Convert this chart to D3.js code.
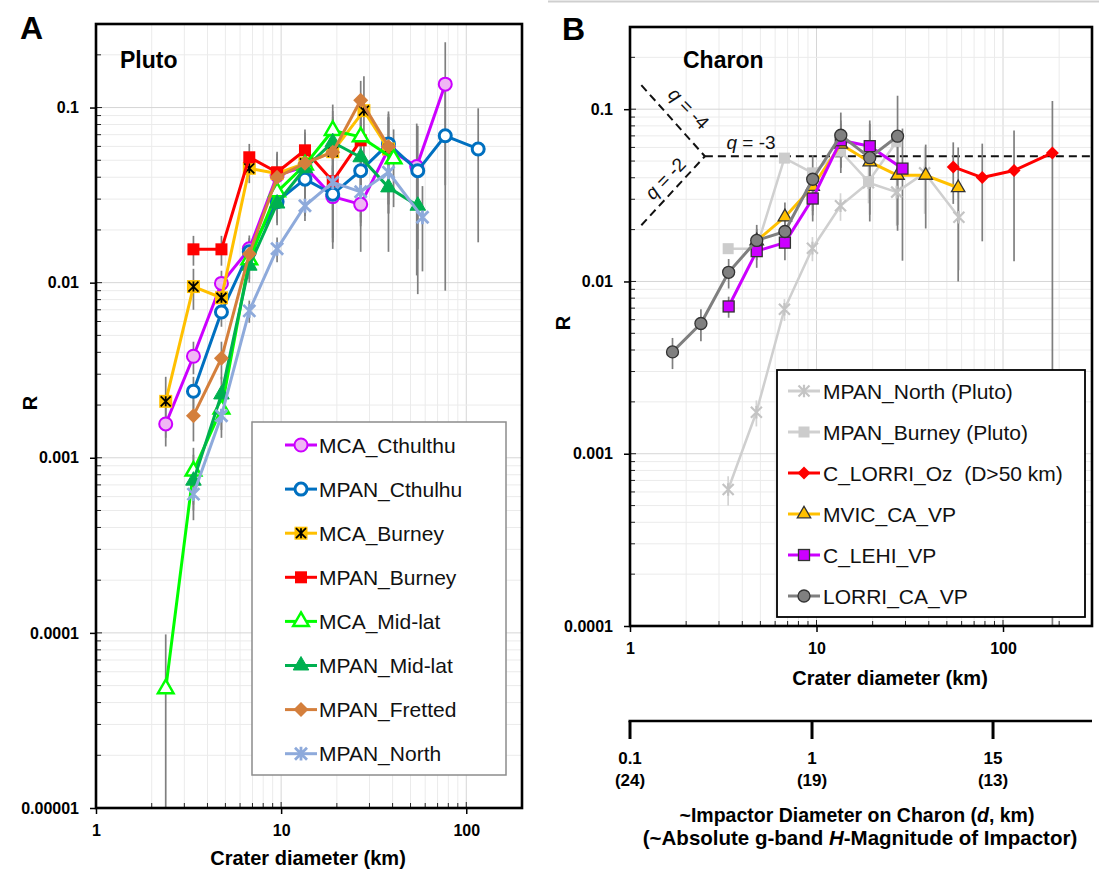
<!DOCTYPE html>
<html><head><meta charset="utf-8">
<script src="https://cdn.jsdelivr.net/npm/d3@7"></script>
<style>body{margin:0;background:#fff}svg{display:block;font-family:Arial,"Liberation Sans",sans-serif}</style>
</head><body><svg id="c" width="1099" height="876"></svg>
<script>
// ---------------- DATA : Panel A (Pluto) ----------------
const xTicks = [1, 10, 100];
const xTickLabels = ["1", "10", "100"];
const yTicksA = [1e-5, 1e-4, 1e-3, 1e-2, 1e-1];
const yTickLabelsA = ["0.00001", "0.0001", "0.001", "0.01", "0.1"];
const yTicksB = [1e-4, 1e-3, 1e-2, 1e-1];
const yTickLabelsB = ["0.0001", "0.001", "0.01", "0.1"];

const mcaCthD = [2.38, 3.36, 4.76, 6.73, 9.51, 13.45, 19.0, 26.9, 38.0, 54.0, 77.0];
const mcaCthR = [0.00156, 0.0038, 0.0099, 0.0156, 0.041, 0.046, 0.031, 0.028, 0.058, 0.046, 0.136];
const mcaCthE = [0.0004, 0.0008, 0.0018, 0.003, 0.01, 0.014, 0.014, 0.013, 0.03, 0.035, 0.1];

const mpanCthD = [3.36, 4.76, 6.73, 9.51, 13.45, 19.0, 26.9, 38.0, 54.7, 77.0, 116];
const mpanCthR = [0.0024, 0.0068, 0.015, 0.029, 0.039, 0.032, 0.0436, 0.062, 0.0436, 0.069, 0.058];
const mpanCthE = [0.0005, 0.0012, 0.003, 0.007, 0.012, 0.015, 0.02, 0.03, 0.035, 0.06, 0.041];

const mcaBurD = [2.38, 3.36, 4.76, 6.73, 9.51, 13.45, 19.0, 28.0, 38.0];
const mcaBurR = [0.0021, 0.0095, 0.0082, 0.045, 0.042, 0.048, 0.056, 0.096, 0.058];
const mcaBurE = [0.0008, 0.0025, 0.002, 0.008, 0.014, 0.02, 0.03, 0.055, 0.03];

const mpanBurD = [3.36, 4.76, 6.73, 9.51, 13.45, 19.0, 26.9];
const mpanBurR = [0.0155, 0.0155, 0.052, 0.0427, 0.057, 0.038, 0.065];
const mpanBurE = [0.003, 0.003, 0.01, 0.012, 0.018, 0.02, 0.035];

const mcaMidD = [2.38, 3.36, 4.76, 6.73, 9.51, 13.45, 19.0, 26.9, 40.5];
const mcaMidR = [0.000048, 0.00084, 0.0019, 0.0135, 0.033, 0.047, 0.074, 0.068, 0.051];
const mcaMidE = [0.00005, 0.0003, 0.0006, 0.003, 0.009, 0.015, 0.03, 0.04, 0.024];

const mpanMidD = [3.36, 4.76, 6.73, 9.51, 13.45, 19.0, 26.9, 38.0, 54.7];
const mpanMidR = [0.00074, 0.0023, 0.0125, 0.0283, 0.045, 0.0634, 0.052, 0.035, 0.0275];
const mpanMidE = [0.0003, 0.0006, 0.0025, 0.007, 0.013, 0.025, 0.03, 0.02, 0.012];

const mpanFreD = [3.36, 4.76, 6.73, 9.51, 13.45, 19.0, 26.9, 38.0];
const mpanFreR = [0.00174, 0.0037, 0.0146, 0.04, 0.048, 0.0556, 0.11, 0.06];
const mpanFreE = [0.0005, 0.0009, 0.003, 0.012, 0.024, 0.04, 0.032, 0.035];

const mpanNorD = [3.36, 4.76, 6.73, 9.51, 13.45, 19.0, 26.9, 38.0, 58.0];
const mpanNorR = [0.00062, 0.00174, 0.0069, 0.0156, 0.0275, 0.0374, 0.033, 0.0427, 0.0236];
const mpanNorE = [0.00012, 0.0003, 0.001, 0.0025, 0.005, 0.009, 0.012, 0.018, 0.012];

// ---------------- DATA : Panel B (Charon) ----------------
const lorriOzD = [54.1, 77.4, 114.6, 184];
const lorriOzR = [0.0462, 0.0401, 0.0441, 0.0557];
const lorriOzE = [0.018, 0.023, 0.031, 0.056];

const mvicD = [4.78, 6.77, 9.54, 13.5, 19.3, 27.2, 38.5, 57.5];
const mvicR = [0.0172, 0.0237, 0.0356, 0.0626, 0.0494, 0.0413, 0.0413, 0.035];
const mvicE = [0.003, 0.005, 0.01, 0.02, 0.025, 0.02, 0.021, 0.025];

const lehiD = [3.38, 4.78, 6.77, 9.54, 13.5, 19.3, 28.9];
const lehiR = [0.00716, 0.015, 0.0168, 0.0303, 0.066, 0.061, 0.0452];
const lehiE = [0.001, 0.003, 0.0035, 0.008, 0.02, 0.025, 0.032];

const lorriCaD = [1.69, 2.4, 3.38, 4.78, 6.77, 9.54, 13.5, 19.3, 27.2];
const lorriCaR = [0.0039, 0.0057, 0.0113, 0.0173, 0.0195, 0.0392, 0.0706, 0.0523, 0.0697];
const lorriCaE = [0.0008, 0.0012, 0.0022, 0.004, 0.0035, 0.015, 0.025, 0.03, 0.05];

// q reference lines (crater D, R)
const qVertex = [2.52, 0.0533];
const qMinus4End = [1.15, 0.138];
const qMinus2End = [1.15, 0.0212];
const qMinus3End = [300, 0.0533];

// impactor secondary axis
const impTickD = [1, 9.46, 88.4];
const impLabel1 = ["0.1", "1", "15"];
const impLabel2 = ["(24)", "(19)", "(13)"];

// ---------------- SCALES ----------------
const svg = d3.select("#c");
const xA = d3.scaleLog().domain([1, 200]).range([96, 522]);
const yA = d3.scaleLog().domain([1e-5, 0.3]).range([808, 24]);
const xB = d3.scaleLog().domain([1, 300]).range([630, 1092]);
const yB = d3.scaleLog().domain([1e-4, 0.3]).range([626, 27]);

function logVals(lo, hi) {
  const out = [];
  for (let e = Math.floor(Math.log10(lo)); e <= Math.ceil(Math.log10(hi)); e++)
    for (let m = 1; m <= 9; m++) {
      const v = m * Math.pow(10, e);
      if (v >= lo * 0.999 && v <= hi * 1.001) out.push({ v, major: m === 1 });
    }
  return out;
}

function frame(x, y, yMaj, yLab) {
  const [x0, x1] = x.range(), [y0, y1] = y.range();
  const g = svg.append("g");
  const xs = logVals(...x.domain()), ys = logVals(...y.domain());
  g.selectAll(null).data(xs).join("line")
    .attr("x1", d => x(d.v)).attr("x2", d => x(d.v)).attr("y1", y1).attr("y2", y0)
    .attr("stroke", d => d.major ? "#d6d6d6" : "#ebebeb").attr("stroke-width", 1);
  g.selectAll(null).data(ys).join("line")
    .attr("y1", d => y(d.v)).attr("y2", d => y(d.v)).attr("x1", x0).attr("x2", x1)
    .attr("stroke", d => d.major ? "#d6d6d6" : "#ebebeb").attr("stroke-width", 1);
  g.selectAll(null).data(xs).join("line")
    .attr("x1", d => x(d.v)).attr("x2", d => x(d.v)).attr("y1", y0).attr("y2", d => y0 - (d.major ? 6 : 5))
    .attr("stroke", "#222").attr("stroke-width", 1);
  g.selectAll(null).data(ys).join("line")
    .attr("y1", d => y(d.v)).attr("y2", d => y(d.v)).attr("x1", x0).attr("x2", d => x0 + (d.major ? 6 : 5))
    .attr("stroke", "#222").attr("stroke-width", 1);
  const ax = g.append("g").attr("transform", `translate(0,${y0})`)
    .call(d3.axisBottom(x).tickValues(xTicks).tickFormat((d, i) => xTickLabels[i]).tickSize(6).tickPadding(11));
  const ay = g.append("g").attr("transform", `translate(${x0},0)`)
    .call(d3.axisLeft(y).tickValues(yMaj).tickFormat((d, i) => yLab[i]).tickSize(6).tickPadding(11));
  [ax, ay].forEach(a => {
    a.select(".domain").remove();
    a.attr("font-size", 16).attr("font-weight", "bold").attr("font-family", "Arial, 'Liberation Sans', sans-serif");
    a.selectAll("text").attr("fill", "#000");
    a.selectAll("line").attr("stroke", "#000").attr("stroke-width", 1.5);
  });
  return g;
}

function border(x, y) {
  const [x0, x1] = x.range(), [y0, y1] = y.range();
  svg.append("rect").attr("x", x0).attr("y", y1).attr("width", x1 - x0).attr("height", y0 - y1)
    .attr("fill", "none").attr("stroke", "#000").attr("stroke-width", 2.6);
}

function marker(g, type, cx, cy, s) {
  const sw = s.sw == null ? 2 : s.sw;
  if (type === "circle") {
    g.append("circle").attr("cx", cx).attr("cy", cy).attr("r", s.r || 6.5)
      .attr("fill", s.fill).attr("stroke", s.stroke).attr("stroke-width", sw);
  } else if (type === "square") {
    const h = (s.size || 12) / 2;
    g.append("rect").attr("x", cx - h).attr("y", cy - h).attr("width", 2 * h).attr("height", 2 * h)
      .attr("fill", s.fill).attr("stroke", s.stroke || "none").attr("stroke-width", sw);
  } else if (type === "diamond") {
    const a = s.half || 7;
    g.append("path").attr("d", `M${cx},${cy - a}L${cx + a},${cy}L${cx},${cy + a}L${cx - a},${cy}Z`)
      .attr("fill", s.fill).attr("stroke", s.stroke || "none").attr("stroke-width", sw);
  } else if (type === "triangle") {
    g.append("path").attr("transform", `translate(${cx},${cy})`)
      .attr("d", d3.symbol(d3.symbolTriangle, s.area || 110)())
      .attr("fill", s.fill).attr("stroke", s.stroke || "none").attr("stroke-width", sw);
  } else if (type === "star") {
    const a = s.size || 6;
    g.append("path").attr("d", `M${cx - a},${cy - a}L${cx + a},${cy + a}M${cx - a},${cy + a}L${cx + a},${cy - a}M${cx},${cy - a * 1.15}L${cx},${cy + a * 1.15}`)
      .attr("stroke", s.stroke).attr("stroke-width", s.sw || 2.6).attr("fill", "none");
  } else if (type === "sqstar") {
    const h = 6.5;
    g.append("rect").attr("x", cx - h).attr("y", cy - h).attr("width", 2 * h).attr("height", 2 * h).attr("fill", s.fill);
    const a = 5;
    g.append("path").attr("d", `M${cx - a},${cy - a}L${cx + a},${cy + a}M${cx - a},${cy + a}L${cx + a},${cy - a}M${cx},${cy - a}L${cx},${cy + a}`)
      .attr("stroke", "#000").attr("stroke-width", 1.8).attr("fill", "none");
  }
}

function drawSeries(x, y, list, errColorDefault) {
  const [ybot, ytop] = y.range();
  const gErr = svg.append("g");
  const gSer = svg.append("g");
  list.forEach(S => {
    const pts = S.D.map((d, i) => ({ d, r: S.R[i], e: S.E ? S.E[i] : 0 }));
    if (S.E) {
      gErr.selectAll(null).data(pts).join("line")
        .attr("x1", p => x(p.d)).attr("x2", p => x(p.d))
        .attr("y1", p => Math.max(ytop, y(p.r + p.e)))
        .attr("y2", p => (p.r - p.e) <= y.domain()[0] ? ybot : y(p.r - p.e))
        .attr("stroke", S.errColor || errColorDefault).attr("stroke-width", 1.7);
    }
  });
  list.forEach(S => {
    const pts = S.D.map((d, i) => ({ d, r: S.R[i] }));
    const g = gSer.append("g");
    g.append("path").datum(pts)
      .attr("d", d3.line().x(p => x(p.d)).y(p => y(p.r)))
      .attr("fill", "none").attr("stroke", S.color).attr("stroke-width", S.lw || 3).attr("stroke-linejoin", "round");
    pts.forEach(p => marker(g, S.type, x(p.d), y(p.r), S));
  });
}

// ---------------- PANEL A ----------------
const seriesA = [
  { name: "MCA_Cthulthu", D: mcaCthD, R: mcaCthR, E: mcaCthE, color: "#cc00ff", type: "circle", fill: "#f0b6f4", stroke: "#cc00ff", r: 6.5 },
  { name: "MPAN_Cthulhu", D: mpanCthD, R: mpanCthR, E: mpanCthE, color: "#0070c0", type: "circle", fill: "#ffffff", stroke: "#0070c0", r: 6, sw: 3 },
  { name: "MCA_Burney", D: mcaBurD, R: mcaBurR, E: mcaBurE, color: "#ffc000", type: "sqstar", fill: "#ffc000" },
  { name: "MPAN_Burney", D: mpanBurD, R: mpanBurR, E: mpanBurE, color: "#ff0000", type: "square", fill: "#ff0000", size: 12 },
  { name: "MCA_Mid-lat", D: mcaMidD, R: mcaMidR, E: mcaMidE, color: "#00ff00", type: "triangle", fill: "#ffffff", stroke: "#00ff00", area: 105, sw: 2.5 },
  { name: "MPAN_Mid-lat", D: mpanMidD, R: mpanMidR, E: mpanMidE, color: "#00b050", type: "triangle", fill: "#00b050", stroke: "#00b050", area: 105, sw: 1 },
  { name: "MPAN_Fretted", D: mpanFreD, R: mpanFreR, E: mpanFreE, color: "#d47f3c", type: "diamond", fill: "#d47f3c", half: 7.5 },
  { name: "MPAN_North", D: mpanNorD, R: mpanNorR, E: mpanNorE, color: "#8eaadb", type: "star", stroke: "#8eaadb", size: 6, sw: 2.8 }
];
frame(xA, yA, yTicksA, yTickLabelsA);
drawSeries(xA, yA, seriesA, "#7f7f7f");

// legend A
const legA = svg.append("g");
legA.append("rect").attr("x", 252).attr("y", 422).attr("width", 254).attr("height", 353)
  .attr("fill", "#fff").attr("stroke", "#8c8c8c").attr("stroke-width", 1.5);
seriesA.forEach((S, i) => {
  const yy = 445 + i * 44.1;
  legA.append("line").attr("x1", 285).attr("x2", 317).attr("y1", yy).attr("y2", yy).attr("stroke", S.color).attr("stroke-width", 3);
  marker(legA, S.type, 301, yy, S);
  legA.append("text").attr("x", 319).attr("y", yy + 7.5).attr("font-size", 21).attr("fill", "#111").text(S.name);
});
border(xA, yA);

// ---------------- PANEL B ----------------
const seriesB = [
  { name: "MPAN_North (Pluto)", D: mpanNorD, R: mpanNorR, E: mpanNorE, errColor: "#d4d4d4", color: "#cfcfcf", type: "star", stroke: "#c4c4c4", size: 5.5, sw: 2.2, lw: 2.5 },
  { name: "MPAN_Burney (Pluto)", D: mpanBurD, R: mpanBurR, E: null, color: "#d0d0d0", type: "square", fill: "#cccccc", size: 11, lw: 2.5 },
  { name: "C_LORRI_Oz  (D>50 km)", D: lorriOzD, R: lorriOzR, E: lorriOzE, color: "#ff0000", type: "diamond", fill: "#ff0000", half: 6.5, lw: 3 },
  { name: "MVIC_CA_VP", D: mvicD, R: mvicR, E: mvicE, color: "#ffc000", type: "triangle", fill: "#ffc000", stroke: "#333", area: 78, sw: 1.3, lw: 3 },
  { name: "C_LEHI_VP", D: lehiD, R: lehiR, E: lehiE, color: "#cc00ff", type: "square", fill: "#cc00ff", stroke: "#333", size: 11, sw: 1.3, lw: 3 },
  { name: "LORRI_CA_VP", D: lorriCaD, R: lorriCaR, E: lorriCaE, color: "#7f7f7f", type: "circle", fill: "#808080", stroke: "#333", r: 6, sw: 1.3, lw: 3 }
];
frame(xB, yB, yTicksB, yTickLabelsB);

// q lines
const qg = svg.append("g");
const qLine = d3.line().x(p => xB(p[0])).y(p => yB(p[1]));
[[qMinus4End, qVertex], [qMinus2End, qVertex], [qVertex, qMinus3End]].forEach(seg => {
  qg.append("path").attr("d", qLine(seg)).attr("fill", "none").attr("stroke", "#111")
    .attr("stroke-width", 2).attr("stroke-dasharray", "8,5");
});

drawSeries(xB, yB, seriesB, "#7f7f7f");

// q labels
function qLabel(txt, cx, cy, rot) {
  const t = qg.append("text").attr("transform", `translate(${cx},${cy}) rotate(${rot})`)
    .attr("text-anchor", "middle").attr("font-size", 19).attr("fill", "#111");
  t.append("tspan").attr("font-style", "italic").text("q");
  t.append("tspan").text(" = " + txt);
}
qLabel("-3", 751, 149, 0);
qLabel("-4", 684, 113, 46);
qLabel("-2", 670, 183, -46);

// legend B
const legB = svg.append("g");
legB.append("rect").attr("x", 777).attr("y", 370).attr("width", 308).attr("height", 247)
  .attr("fill", "#fff").attr("stroke", "#000").attr("stroke-width", 1.8);
seriesB.forEach((S, i) => {
  const yy = 391 + i * 41;
  legB.append("line").attr("x1", 788).attr("x2", 820).attr("y1", yy).attr("y2", yy).attr("stroke", S.color).attr("stroke-width", 3);
  marker(legB, S.type, 804, yy, S);
  legB.append("text").attr("x", 823).attr("y", yy + 7.5).attr("font-size", 21).attr("fill", "#111")
    .style("white-space", "pre").attr("xml:space", "preserve").text(S.name);
});
border(xB, yB);

// ---------------- LABELS ----------------
const lab = svg.append("g").attr("font-weight", "bold").attr("fill", "#000");
lab.append("text").attr("x", 20).attr("y", 39).attr("font-size", 32).text("A");
lab.append("text").attr("x", 562).attr("y", 40).attr("font-size", 32).text("B");
lab.append("text").attr("x", 120).attr("y", 68).attr("font-size", 23).text("Pluto");
lab.append("text").attr("x", 683).attr("y", 68).attr("font-size", 23).text("Charon");
lab.append("text").attr("x", 308).attr("y", 865).attr("text-anchor", "middle").attr("font-size", 20).text("Crater diameter (km)");
lab.append("text").attr("x", 890).attr("y", 685).attr("text-anchor", "middle").attr("font-size", 20).text("Crater diameter (km)");
lab.append("text").attr("transform", "translate(37,403) rotate(-90)").attr("text-anchor", "middle").attr("font-size", 20).text("R");
lab.append("text").attr("transform", "translate(570,323) rotate(-90)").attr("text-anchor", "middle").attr("font-size", 20).text("R");

// top separator line
svg.append("line").attr("x1", 548).attr("x2", 1099).attr("y1", 1.5).attr("y2", 1.5).attr("stroke", "#cfcfcf").attr("stroke-width", 2);

// impactor axis
const ia = svg.append("g");
const iy = 721;
ia.append("line").attr("x1", xB(impTickD[0]) - 1.5).attr("x2", xB.range()[1]).attr("y1", iy).attr("y2", iy)
  .attr("stroke", "#000").attr("stroke-width", 2.5);
impTickD.forEach((d, i) => {
  ia.append("line").attr("x1", xB(d)).attr("x2", xB(d)).attr("y1", iy).attr("y2", iy + 18).attr("stroke", "#000").attr("stroke-width", 3);
  ia.append("text").attr("x", xB(d)).attr("y", 764).attr("text-anchor", "middle").attr("font-size", 17).attr("font-weight", "bold").text(impLabel1[i]);
  ia.append("text").attr("x", xB(d)).attr("y", 786).attr("text-anchor", "middle").attr("font-size", 17).attr("font-weight", "bold").text(impLabel2[i]);
});
const t1 = ia.append("text").attr("x", 857).attr("y", 822).attr("text-anchor", "middle").attr("font-size", 19.5).attr("font-weight", "bold");
t1.append("tspan").text("~Impactor Diameter on Charon (");
t1.append("tspan").attr("font-style", "italic").text("d");
t1.append("tspan").text(", km)");
const t2 = ia.append("text").attr("x", 860).attr("y", 845).attr("text-anchor", "middle").attr("font-size", 20.5).attr("font-weight", "bold");
t2.append("tspan").text("(~Absolute g-band ");
t2.append("tspan").attr("font-style", "italic").text("H");
t2.append("tspan").text("-Magnitude of Impactor)");
</script></body></html>
